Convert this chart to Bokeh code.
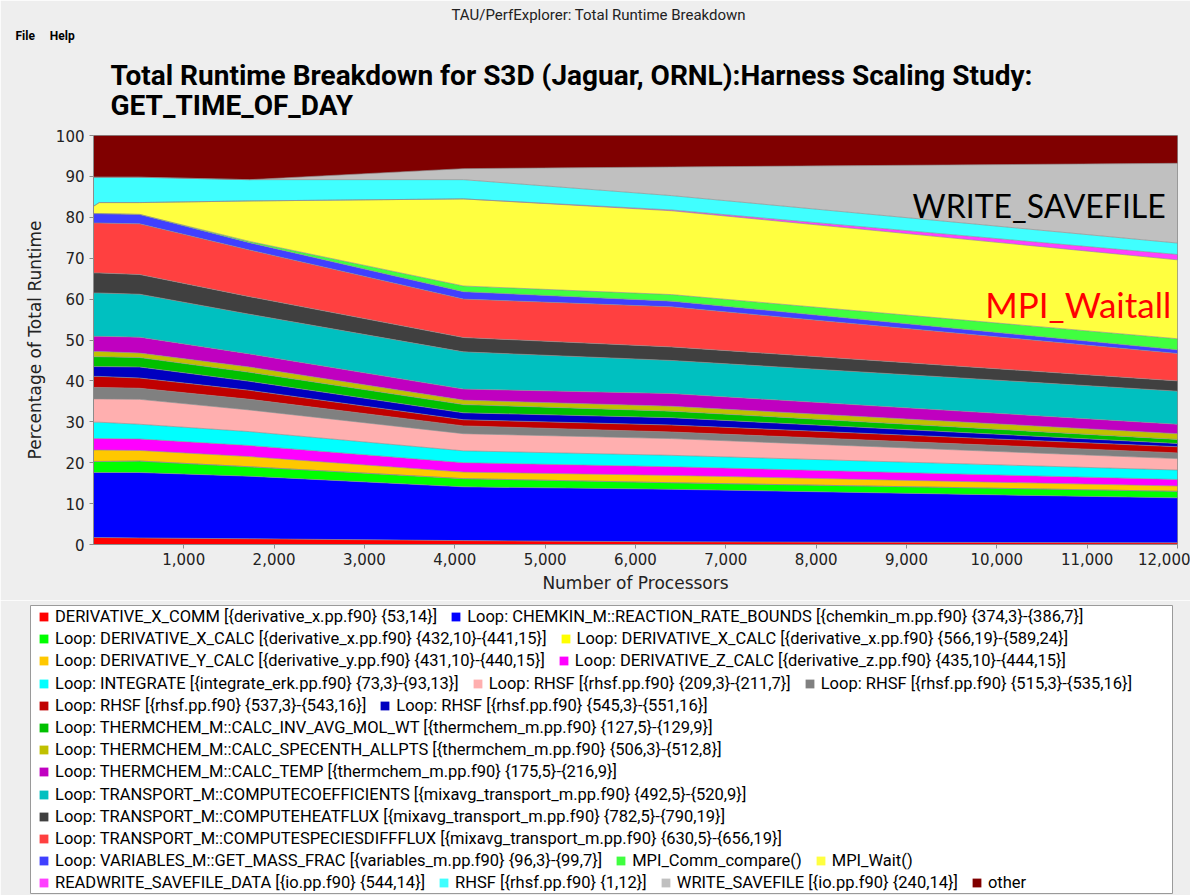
from bokeh.plotting import figure
from bokeh.models import (ColumnDataSource, Range1d, NumeralTickFormatter, FixedTicker,
                          Title, Label, Legend, LegendItem)
from bokeh.layouts import column
from bokeh.embed import file_html
from bokeh.resources import INLINE

# ---------------- data (percent of total runtime) ----------------
processors = [1, 64, 512, 1728, 4096, 6400, 12000]

derivative_x_comm = [1.7, 1.7, 1.6, 1.4, 0.95, 0.65, 0.4]
chemkin_rate_bounds = [15.9, 15.9, 16.0, 15.3, 13.15, 12.85, 11.0]
derivative_x_calc_a = [2.7, 2.7, 2.8, 2.3, 2.0, 1.6, 1.6]
derivative_x_calc_b = [0.0, 0.0, 0.0, 0.0, 0.0, 0.0, 0.0]
derivative_y_calc = [2.8, 2.8, 2.6, 2.5, 1.6, 1.8, 1.3]
derivative_z_calc = [2.8, 2.8, 2.8, 2.7, 2.3, 2.1, 1.6]
integrate = [4.0, 4.0, 3.6, 3.4, 2.9, 2.8, 2.3]
rhsf_209 = [5.7, 5.7, 6.1, 5.3, 4.2, 4.1, 2.8]
rhsf_515 = [2.8, 2.8, 2.7, 2.6, 1.9, 1.6, 1.4]
rhsf_537 = [2.7, 2.7, 2.5, 2.2, 1.5, 1.7, 1.5]
rhsf_545 = [2.4, 2.4, 2.7, 2.2, 1.7, 1.8, 0.8]
calc_inv_avg_mol_wt = [2.4, 2.4, 2.3, 2.2, 2.0, 1.6, 1.0]
calc_specenth_allpts = [1.3, 1.3, 1.1, 1.3, 1.1, 1.2, 1.4]
calc_temp = [3.7, 3.7, 3.9, 3.2, 2.7, 3.1, 2.3]
compute_coefficients = [10.6, 10.6, 10.5, 9.7, 9.1, 8.1, 8.1]
compute_heatflux = [4.9, 4.9, 4.8, 4.3, 3.5, 3.3, 2.5]
compute_species_diff_flux = [12.2, 12.2, 12.4, 11.4, 9.4, 9.8, 6.7]
get_mass_frac = [2.3, 2.3, 2.3, 1.8, 1.8, 1.4, 0.9]
mpi_comm_compare = [0.0, 0.0, 0.0, 0.3, 1.4, 1.6, 2.7]
mpi_wait = [1.8, 2.7, 2.9, 9.9, 21.3, 20.5, 19.3]
readwrite_savefile_data = [0.0, 0.0, 0.0, 0.0, 0.0, 0.2, 1.3]
rhsf_1_12 = [7.1, 6.2, 6.2, 5.2, 4.7, 3.5, 2.8]
write_savefile = [0.0, 0.0, 0.0, 0.0, 2.7, 7.0, 19.5]
other = [10.2, 10.2, 10.2, 10.8, 8.1, 7.7, 6.8]

series_labels = [
    "DERIVATIVE_X_COMM [{derivative_x.pp.f90} {53,14}]",
    "Loop: CHEMKIN_M::REACTION_RATE_BOUNDS [{chemkin_m.pp.f90} {374,3}-{386,7}]",
    "Loop: DERIVATIVE_X_CALC [{derivative_x.pp.f90} {432,10}-{441,15}]",
    "Loop: DERIVATIVE_X_CALC [{derivative_x.pp.f90} {566,19}-{589,24}]",
    "Loop: DERIVATIVE_Y_CALC [{derivative_y.pp.f90} {431,10}-{440,15}]",
    "Loop: DERIVATIVE_Z_CALC [{derivative_z.pp.f90} {435,10}-{444,15}]",
    "Loop: INTEGRATE [{integrate_erk.pp.f90} {73,3}-{93,13}]",
    "Loop: RHSF [{rhsf.pp.f90} {209,3}-{211,7}]",
    "Loop: RHSF [{rhsf.pp.f90} {515,3}-{535,16}]",
    "Loop: RHSF [{rhsf.pp.f90} {537,3}-{543,16}]",
    "Loop: RHSF [{rhsf.pp.f90} {545,3}-{551,16}]",
    "Loop: THERMCHEM_M::CALC_INV_AVG_MOL_WT [{thermchem_m.pp.f90} {127,5}-{129,9}]",
    "Loop: THERMCHEM_M::CALC_SPECENTH_ALLPTS [{thermchem_m.pp.f90} {506,3}-{512,8}]",
    "Loop: THERMCHEM_M::CALC_TEMP [{thermchem_m.pp.f90} {175,5}-{216,9}]",
    "Loop: TRANSPORT_M::COMPUTECOEFFICIENTS [{mixavg_transport_m.pp.f90} {492,5}-{520,9}]",
    "Loop: TRANSPORT_M::COMPUTEHEATFLUX [{mixavg_transport_m.pp.f90} {782,5}-{790,19}]",
    "Loop: TRANSPORT_M::COMPUTESPECIESDIFFFLUX [{mixavg_transport_m.pp.f90} {630,5}-{656,19}]",
    "Loop: VARIABLES_M::GET_MASS_FRAC [{variables_m.pp.f90} {96,3}-{99,7}]",
    "MPI_Comm_compare()",
    "MPI_Wait()",
    "READWRITE_SAVEFILE_DATA [{io.pp.f90} {544,14}]",
    "RHSF [{rhsf.pp.f90} {1,12}]",
    "WRITE_SAVEFILE [{io.pp.f90} {240,14}]",
    "other",
]

series_values = [
    derivative_x_comm, chemkin_rate_bounds, derivative_x_calc_a, derivative_x_calc_b,
    derivative_y_calc, derivative_z_calc, integrate, rhsf_209, rhsf_515, rhsf_537,
    rhsf_545, calc_inv_avg_mol_wt, calc_specenth_allpts, calc_temp,
    compute_coefficients, compute_heatflux, compute_species_diff_flux, get_mass_frac,
    mpi_comm_compare, mpi_wait, readwrite_savefile_data, rhsf_1_12, write_savefile, other,
]

series_colors = [
    "#FF0000", "#0000FF", "#00FF00", "#FFFF00", "#FFC800", "#FF00FF", "#00FFFF",
    "#FFAFAF", "#808080", "#C00000", "#0000C0", "#00C000", "#C0C000", "#C000C0",
    "#00C0C0", "#404040", "#FF4040", "#4040FF", "#40FF40", "#FFFF40", "#FF40FF",
    "#40FFFF", "#C0C0C0", "#800000",
]

# legend rows (flow layout of the original legend box)
legend_rows = [[0, 1], [2, 3], [4, 5], [6, 7, 8], [9, 10], [11], [12], [13],
               [14], [15], [16], [17, 18, 19], [20, 21, 22, 23]]

x_ticks = list(range(1000, 12001, 1000))
y_ticks = list(range(0, 101, 10))

# ---------------- fonts ----------------
TITLEF = "Roboto"
LEGF = "Roboto"
AXISF = "DejaVu Sans"
NB = "\u00a0"

# ---------------- main chart ----------------
keys = [f"s{i}" for i in range(len(series_values))]
data = {"x": processors}
for k, v in zip(keys, series_values):
    data[k] = v
source = ColumnDataSource(data)

p = figure(width=1190, height=600,
           x_range=Range1d(processors[0], processors[-1]), y_range=Range1d(0, 100),
           output_backend="svg", toolbar_location=None, frame_align=False,
           min_border_left=93, min_border_right=13, min_border_top=135, min_border_bottom=56,
           background_fill_color="white", border_fill_color="#EEEEEE",
           outline_line_color="#8C8C8C")

areas = p.varea_stack(stackers=keys, x="x", color=series_colors, source=source)
p.vline_stack(stackers=keys, x="x", color="#8A8A8A", line_width=0.8, line_alpha=0.8, source=source)

p.xgrid.visible = False
p.ygrid.visible = False

for ax in (p.xaxis[0], p.yaxis[0]):
    ax.axis_line_color = "#8C8C8C"
    ax.major_tick_line_color = "#8C8C8C"
    ax.major_tick_in = 0
    ax.major_tick_out = 4
    ax.minor_tick_line_color = None
    ax.major_label_text_font = AXISF
    ax.major_label_text_font_size = "15px"
    ax.major_label_text_color = "#222222"
    ax.axis_label_text_font = AXISF
    ax.axis_label_text_font_size = "17px"
    ax.axis_label_text_font_style = "normal"
    ax.axis_label_text_color = "#222222"

p.xaxis[0].ticker = FixedTicker(ticks=x_ticks)
p.xaxis[0].formatter = NumeralTickFormatter(format="0,0")
p.xaxis[0].axis_label = "Number of Processors"
p.xaxis[0].major_label_standoff = 4
p.xaxis[0].axis_label_standoff = 5
p.yaxis[0].ticker = FixedTicker(ticks=y_ticks)
p.yaxis[0].axis_label = "Percentage of Total Runtime"
p.yaxis[0].major_label_standoff = 5
p.yaxis[0].axis_label_standoff = 8

# titles (closest to the frame added first)
p.add_layout(Title(text="Total Runtime Breakdown for S3D (Jaguar, ORNL):Harness Scaling Study:\nGET_TIME_OF_DAY",
                   align="left", offset=17, standoff=27, text_line_height=0.92,
                   text_font=TITLEF, text_font_size="28px", text_font_style="bold",
                   text_color="black"), "above")
p.add_layout(Title(text="File" + NB * 5 + "Help", align="left", offset=-78, standoff=2,
                   text_font=TITLEF, text_font_size="12px", text_font_style="bold",
                   text_color="black"), "above")
p.add_layout(Title(text="TAU/PerfExplorer: Total Runtime Breakdown", align="left",
                   offset=358, standoff=3,
                   text_font=TITLEF, text_font_size="15px", text_font_style="normal",
                   text_color="#222222"), "above")

# callouts
p.add_layout(Label(x=11870, y=82.9, text="WRITE_SAVEFILE", text_align="right",
                   text_baseline="middle", text_font="Lato", text_font_size="32px",
                   text_color="black"))
p.add_layout(Label(x=11930, y=58.7, text="MPI_Waitall", text_align="right",
                   text_baseline="middle", text_font="Lato", text_font_size="35px",
                   text_color="#FF0000"))

# ---------------- legend box (white panel below the chart) ----------------
q = figure(width=1190, height=295, x_range=Range1d(0, 1), y_range=Range1d(0, 1),
           output_backend="svg", toolbar_location=None, frame_align=False,
           x_axis_location=None, y_axis_location=None,
           min_border_left=30, min_border_right=18, min_border_top=5, min_border_bottom=2,
           background_fill_color="white", border_fill_color="#EEEEEE",
           outline_line_color="#9A9A9A")
q.grid.visible = False

# legend-only swatch renderers (a single degenerate point: nothing is drawn in the box)
swatches = [q.varea(x=[0.5], y1=[0.5], y2=[0.5], fill_color=c) for c in series_colors]

for i, row in enumerate(legend_rows):
    leg = Legend(items=[LegendItem(label=series_labels[k], renderers=[swatches[k]]) for k in row],
                 location=(8, 266.5 - 22.2 * i), orientation="horizontal",
                 border_line_alpha=0, background_fill_alpha=0,
                 padding=0, margin=0, spacing=13, label_standoff=6,
                 glyph_width=11, glyph_height=11, label_height=20,
                 label_text_font=LEGF, label_text_font_size="16.5px",
                 label_text_color="black")
    q.add_layout(leg)

layout = column(p, q, spacing=0)
open("out.html", "w").write(file_html(layout, INLINE))
